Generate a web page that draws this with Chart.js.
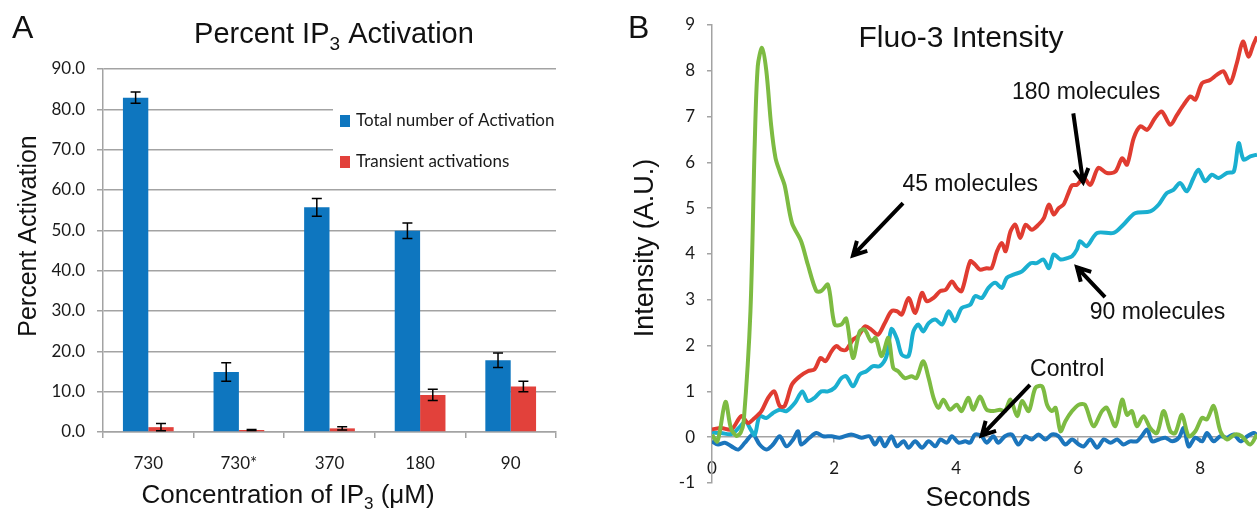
<!DOCTYPE html>
<html lang="en">
<head>
<meta charset="UTF-8">
<title>Percent IP3 Activation / Fluo-3 Intensity</title>
<script src="https://cdn.jsdelivr.net/npm/chart.js"></script>
<style>
    body { margin: 0; background: #fff; }
    #wrap { position: relative; width: 1257px; height: 510px; overflow: hidden; }
    #barChart { position: absolute; left: 0; top: 0; }
    #lineChart { position: absolute; left: 620px; top: 0; }
</style>
</head>
<body>
<div id="wrap">
    <canvas id="barChart" width="620" height="510"></canvas>
    <canvas id="lineChart" width="637" height="510"></canvas>
</div>
<script>
// ---------- Panel A: percent IP3 activation ----------
const concentrations = ['730', '730*', '370', '180', '90'];
const totalActivation = [82.9, 14.9, 55.7, 49.9, 17.8];
const totalError = [1.4, 2.3, 2.2, 1.9, 1.8];
const transientActivation = [1.2, 0.5, 0.9, 9.2, 11.3];
const transientError = [0.9, 0.1, 0.4, 1.4, 1.3];
const percentTicks = [0, 10, 20, 30, 40, 50, 60, 70, 80, 90];

// ---------- Panel B: Fluo-3 intensity traces ----------
const secondTicks = [0, 2, 4, 6, 8];
const intensityTicks = [-1, 0, 1, 2, 3, 4, 5, 6, 7, 8, 9];

const t45 = [0, 0.09, 0.22, 0.31, 0.40, 0.47, 0.52, 0.63, 0.70, 0.75, 0.82, 0.89, 0.97, 1.04, 1.11, 1.19, 1.31, 1.46, 1.57, 1.71,
    1.79, 1.90, 2.01, 2.12, 2.20, 2.31, 2.42, 2.50, 2.61, 2.68, 2.78, 2.89, 2.97, 3.05, 3.16, 3.27, 3.35, 3.46, 3.55, 3.63,
    3.71, 3.79, 3.90, 4.01, 4.09, 4.20, 4.28, 4.39, 4.50, 4.61, 4.72, 4.80, 4.89, 5.00, 5.08, 5.19, 5.30, 5.41, 5.49, 5.57,
    5.63, 5.71, 5.79, 5.90, 6.01, 6.11, 6.25, 6.39, 6.47, 6.61, 6.72, 6.80, 6.88, 6.96, 7.07, 7.18, 7.29, 7.40, 7.51, 7.59,
    7.70, 7.81, 7.92, 8.03, 8.11, 8.22, 8.33, 8.44, 8.57, 8.68, 8.82, 8.93];
const v45 = [0.05, -0.09, 0.77, 0.2, 0.03, 0.1, 0.35, 2.75, 6.4, 8.1, 8.5, 8.0, 6.8, 6.1, 5.8, 5.5, 4.68, 4.28, 3.77, 3.19,
    3.19, 3.33, 2.46, 2.46, 2.59, 1.73, 2.31, 2.35, 2.09, 2.17, 1.77, 2.17, 1.51, 1.44, 1.29, 1.33, 1.29, 1.66, 1.29, 0.86,
    0.64, 0.82, 0.6, 0.71, 0.57, 0.86, 0.6, 0.89, 0.6, 0.57, 0.6, 0.57, 0.82, 0.46, 0.79, 0.57, 1.08, 1.11, 0.71, 0.57,
    0.64, 0.13, 0.35, 0.57, 0.71, 0.71, 0.24, 0.57, 0.64, 0.24, 0.82, 0.49, 0.57, 0.24, 0.46, 0.2, 0.09, 0.57, 0.13, 0.09,
    0.49, 0.02, 0.13, 0.42, 0.39, 0.68, 0.13, -0.05, 0.06, 0.02, -0.16, 0.06];

const t180 = [0, 0.15, 0.32, 0.48, 0.59, 0.70, 0.81, 0.92, 1.02, 1.11, 1.19, 1.31, 1.44, 1.57, 1.68, 1.78, 1.86, 1.96, 2.04, 2.12,
    2.20, 2.31, 2.39, 2.51, 2.61, 2.72, 2.83, 2.94, 3.03, 3.11, 3.22, 3.33, 3.44, 3.52, 3.63, 3.74, 3.83, 3.93, 4.01, 4.09,
    4.23, 4.31, 4.39, 4.50, 4.58, 4.67, 4.75, 4.81, 4.89, 4.97, 5.05, 5.14, 5.24, 5.35, 5.44, 5.52, 5.60, 5.68, 5.76, 5.84,
    5.90, 5.98, 6.09, 6.20, 6.33, 6.47, 6.61, 6.72, 6.80, 6.91, 7.02, 7.13, 7.26, 7.37, 7.51, 7.62, 7.73, 7.84, 7.92, 8.03,
    8.16, 8.27, 8.38, 8.49, 8.60, 8.70, 8.79, 8.87, 8.93];
const v180 = [0.17, 0.2, 0.17, 0.46, 0.31, 0.42, 0.57, 0.86, 1.0, 0.68, 0.68, 1.15, 1.33, 1.44, 1.48, 1.73, 1.66, 1.88, 1.99, 1.91,
    1.91, 2.13, 2.2, 2.42, 2.35, 2.24, 2.49, 2.75, 2.75, 2.68, 3.04, 2.71, 3.15, 2.97, 3.04, 3.19, 3.22, 3.4, 3.26, 3.19,
    3.84, 3.77, 3.66, 3.69, 3.69, 4.06, 4.24, 4.06, 4.49, 4.64, 4.35, 4.64, 4.53, 4.64, 4.79, 5.08, 4.86, 5.0, 5.08, 5.33,
    5.5, 5.51, 5.66, 5.51, 5.88, 5.77, 5.8, 6.09, 5.95, 6.53, 6.79, 6.71, 6.97, 7.11, 6.82, 7.04, 7.26, 7.44, 7.37, 7.73,
    7.8, 7.91, 7.99, 7.73, 8.17, 8.64, 8.31, 8.57, 8.75];

const t90 = [0, 0.15, 0.32, 0.45, 0.55, 0.62, 0.70, 0.78, 0.89, 1.0, 1.11, 1.22, 1.36, 1.48, 1.57, 1.68, 1.79, 1.90, 2.01, 2.12,
    2.20, 2.31, 2.42, 2.53, 2.64, 2.75, 2.86, 2.94, 3.03, 3.11, 3.22, 3.30, 3.38, 3.46, 3.55, 3.66, 3.77, 3.88, 3.98, 4.09,
    4.23, 4.31, 4.42, 4.53, 4.64, 4.75, 4.83, 4.94, 5.08, 5.22, 5.32, 5.43, 5.52, 5.60, 5.71, 5.82, 5.90, 5.98, 6.03, 6.14,
    6.31, 6.58, 6.74, 6.93, 7.18, 7.32, 7.45, 7.56, 7.67, 7.78, 7.89, 7.97, 8.08, 8.19, 8.30, 8.44, 8.55, 8.63, 8.71, 8.82, 8.93];
const v90 = [0.1, 0.09, 0.07, 0.22, 0.35, 0.2, 0.05, 0.46, 0.42, 0.53, 0.6, 0.57, 0.75, 1.0, 0.79, 0.86, 1.0, 1.0, 1.08, 1.29,
    1.33, 1.11, 1.37, 1.44, 1.55, 1.55, 1.77, 2.36, 2.15, 1.8, 1.77, 2.31, 2.46, 2.31, 2.49, 2.57, 2.46, 2.75, 2.53, 2.82,
    2.89, 3.08, 3.04, 3.26, 3.37, 3.26, 3.48, 3.55, 3.62, 3.8, 3.8, 3.88, 3.69, 3.99, 3.88, 3.91, 3.95, 4.1, 4.28, 4.17,
    4.46, 4.46, 4.64, 4.89, 4.93, 5.08, 5.33, 5.4, 5.55, 5.37, 5.66, 5.84, 5.59, 5.73, 5.66, 5.77, 5.8, 6.42, 6.06, 6.13, 6.17];

const tControl = [0, 0.10, 0.21, 0.32, 0.43, 0.54, 0.67, 0.78, 0.89, 1.0, 1.11, 1.22, 1.33, 1.41, 1.46, 1.60, 1.71, 1.82, 1.96, 2.09,
    2.28, 2.45, 2.58, 2.67, 2.75, 2.83, 2.94, 3.03, 3.14, 3.22, 3.33, 3.44, 3.55, 3.66, 3.74, 3.85, 3.93, 4.04, 4.15, 4.23,
    4.31, 4.42, 4.50, 4.61, 4.69, 4.80, 4.91, 5.02, 5.13, 5.24, 5.35, 5.46, 5.57, 5.68, 5.79, 5.90, 6.01, 6.09, 6.20, 6.31,
    6.42, 6.53, 6.64, 6.74, 6.85, 6.96, 7.04, 7.13, 7.21, 7.32, 7.43, 7.54, 7.65, 7.73, 7.81, 7.92, 8.03, 8.11, 8.22, 8.33,
    8.44, 8.55, 8.66, 8.77, 8.88, 8.93];
const vControl = [-0.09, -0.16, -0.12, -0.2, -0.27, -0.12, 0.06, -0.16, -0.27, -0.16, 0.02, -0.2, -0.05, 0.13, -0.16, -0.01, 0.09, 0.02, 0.02, -0.01,
    0.06, -0.01, 0.02, -0.16, -0.01, -0.2, 0.02, -0.2, -0.09, -0.23, -0.09, -0.23, -0.09, -0.2, -0.05, -0.12, 0.02, -0.12, -0.09, -0.12,
    0.06, 0.02, -0.12, 0.02, -0.12, 0.02, 0.06, -0.16, 0.02, -0.05, 0.06, -0.05, 0.06, 0.02, -0.16, -0.05, -0.16, -0.2, -0.05, -0.23,
    -0.05, -0.12, -0.05, -0.16, -0.09, -0.09, 0.02, 0.17, -0.09, -0.05, -0.01, -0.09, -0.01, 0.2, -0.2, -0.01, -0.09, 0.09, -0.09, 0.02,
    -0.01, 0.06, -0.09, 0.02, 0.09, 0.05];

// labels and arrows of panel B, in data units (seconds, intensity)
const notes = [
    { text: '180 molecules', at: [6.13, 7.53], from: [5.92, 7.07], to: [6.08, 5.57] },
    { text: '45 molecules', at: [4.23, 5.52], from: [3.13, 5.11], to: [2.31, 3.97] },
    { text: '90 molecules', at: [7.30, 2.71], from: [6.44, 3.06], to: [5.98, 3.71] },
    { text: 'Control', at: [5.82, 1.48], from: [5.21, 1.14], to: [4.42, 0.04] }
];

const SANS = '"Liberation Sans", Arial, sans-serif';
const GRID = '#a3a3a3';
Chart.defaults.font.family = 'Lato, "Liberation Sans", sans-serif';
Chart.defaults.color = '#1a1a1a';

const pts = (ts, vs) => ts.map((t, i) => ({ x: t, y: vs[i] }));
const setTicks = list => scale => { scale.ticks = list.map(v => ({ value: v })); };

// text with a subscript part: parts are {text} or {text, sub: true}
function drawRich(ctx, parts, cx, baseline, size) {
    const subSize = Math.round(size * 0.64);
    const widthOf = p => {
        ctx.font = (p.sub ? subSize : size) + 'px ' + SANS;
        return ctx.measureText(p.text).width;
    };
    let x = cx - parts.reduce((w, p) => w + widthOf(p), 0) / 2;
    ctx.textAlign = 'left';
    ctx.textBaseline = 'alphabetic';
    parts.forEach(p => {
        const w = widthOf(p);
        ctx.fillText(p.text, x, p.sub ? baseline + size * 0.24 : baseline);
        x += w;
    });
}

function drawRotated(ctx, text, cx, cy, size) {
    ctx.save();
    ctx.translate(cx, cy);
    ctx.rotate(-Math.PI / 2);
    ctx.font = size + 'px ' + SANS;
    ctx.textAlign = 'center';
    ctx.textBaseline = 'middle';
    ctx.fillText(text, 0, 0);
    ctx.restore();
}

function drawArrow(ctx, x1, y1, x2, y2) {
    const a = Math.atan2(y2 - y1, x2 - x1), h = 15;
    ctx.beginPath();
    ctx.moveTo(x1, y1);
    ctx.lineTo(x2, y2);
    ctx.moveTo(x2 - h * Math.cos(a - 0.5), y2 - h * Math.sin(a - 0.5));
    ctx.lineTo(x2, y2);
    ctx.lineTo(x2 - h * Math.cos(a + 0.5), y2 - h * Math.sin(a + 0.5));
    ctx.stroke();
}

// error bars on top of each bar
const errorBars = {
    id: 'errorBars',
    afterDatasetsDraw(chart) {
        const ctx = chart.ctx, y = chart.scales.y;
        ctx.save();
        ctx.strokeStyle = '#000';
        ctx.lineWidth = 1.5;
        chart.data.datasets.forEach((ds, i) => {
            chart.getDatasetMeta(i).data.forEach((bar, j) => {
                const top = y.getPixelForValue(ds.data[j] + ds.errors[j]);
                const bot = y.getPixelForValue(ds.data[j] - ds.errors[j]);
                ctx.beginPath();
                ctx.moveTo(bar.x, top); ctx.lineTo(bar.x, bot);
                ctx.moveTo(bar.x - 5, top); ctx.lineTo(bar.x + 5, top);
                ctx.moveTo(bar.x - 5, bot); ctx.lineTo(bar.x + 5, bot);
                ctx.stroke();
            });
        });
        ctx.restore();
    }
};

// legend inside the plot, over a white box
const legendBox = {
    id: 'legendBox',
    afterDraw(chart) {
        const ctx = chart.ctx;
        ctx.save();
        ctx.fillStyle = '#fff';
        ctx.fillRect(333, 97, 240, 84);
        ctx.font = '17px Lato, sans-serif';
        ctx.textAlign = 'left';
        ctx.textBaseline = 'middle';
        chart.data.datasets.forEach((ds, i) => {
            const cy = 121 + i * 41;
            ctx.fillStyle = ds.backgroundColor;
            ctx.fillRect(340, cy - 6, 10, 12);
            ctx.fillStyle = '#1a1a1a';
            ctx.fillText(ds.label, 356, cy);
        });
        ctx.restore();
    }
};

const panelAText = {
    id: 'panelAText',
    afterDraw(chart) {
        const ctx = chart.ctx;
        ctx.save();
        ctx.fillStyle = '#111';
        ctx.font = '32px ' + SANS;
        ctx.textAlign = 'left';
        ctx.fillText('A', 12, 38);
        drawRich(ctx, [{ text: 'Percent IP' }, { text: '3', sub: true }, { text: ' Activation' }], 334, 43, 29);
        drawRich(ctx, [{ text: 'Concentration of IP' }, { text: '3', sub: true }, { text: ' (\u03bcM)' }], 288, 503, 26);
        drawRotated(ctx, 'Percent Activation', 29, 236, 25);
        ctx.restore();
    }
};

const panelBText = {
    id: 'panelBText',
    afterDraw(chart) {
        const ctx = chart.ctx, x = chart.scales.x, y = chart.scales.y;
        ctx.save();
        ctx.fillStyle = '#111';
        ctx.font = '32px ' + SANS;
        ctx.textAlign = 'left';
        ctx.fillText('B', 8, 38);
        drawRich(ctx, [{ text: 'Fluo-3 Intensity' }], 341, 47, 30);
        drawRich(ctx, [{ text: 'Seconds' }], 358, 506, 27);
        drawRotated(ctx, 'Intensity (A.U.)', 26, 248, 27);

        ctx.strokeStyle = '#000';
        ctx.lineWidth = 4;
        ctx.font = '23px ' + SANS;
        ctx.textAlign = 'center';
        ctx.textBaseline = 'middle';
        notes.forEach(n => {
            ctx.fillText(n.text, x.getPixelForValue(n.at[0]), y.getPixelForValue(n.at[1]));
            drawArrow(ctx, x.getPixelForValue(n.from[0]), y.getPixelForValue(n.from[1]),
                x.getPixelForValue(n.to[0]), y.getPixelForValue(n.to[1]));
        });
        ctx.restore();
    }
};

new Chart(document.getElementById('barChart'), {
    type: 'bar',
    data: {
        labels: concentrations,
        datasets: [
            { label: 'Total number of Activation', data: totalActivation, errors: totalError, backgroundColor: '#0e76bf' },
            { label: 'Transient activations', data: transientActivation, errors: transientError, backgroundColor: '#e2413b' }
        ]
    },
    options: {
        responsive: false,
        animation: false,
        layout: { padding: { top: 69, right: 64, bottom: 0, left: 0 } },
        datasets: { bar: { categoryPercentage: 0.56, barPercentage: 1.0 } },
        plugins: { legend: { display: false }, tooltip: { enabled: false } },
        scales: {
            x: {
                afterFit: s => { s.height = 78; },
                grid: { drawOnChartArea: false, offset: true, tickLength: 6, color: GRID, lineWidth: 1.5 },
                border: { color: GRID, width: 1.5 },
                ticks: { padding: 15, font: { size: 17 } }
            },
            y: {
                min: 0,
                max: 90,
                afterFit: s => { s.width = 103; },
                afterBuildTicks: setTicks(percentTicks),
                grid: { tickLength: 6, color: GRID, lineWidth: 1.5 },
                border: { color: GRID, width: 1.5 },
                ticks: { padding: 12, font: { size: 17 }, callback: v => v.toFixed(1) }
            }
        }
    },
    plugins: [errorBars, legendBox, panelAText]
});

new Chart(document.getElementById('lineChart'), {
    type: 'line',
    data: {
        datasets: [
            { label: '45 molecules', data: pts(t45, v45), borderColor: '#7dbb42' },
            { label: '180 molecules', data: pts(t180, v180), borderColor: '#e03c31' },
            { label: '90 molecules', data: pts(t90, v90), borderColor: '#1aafd0' },
            { label: 'Control', data: pts(tControl, vControl), borderColor: '#1b75bc' }
        ]
    },
    options: {
        responsive: false,
        animation: false,
        layout: { padding: { top: 25, right: 0, bottom: 27, left: 0 } },
        elements: { line: { borderWidth: 4, tension: 0.3 }, point: { radius: 0 } },
        plugins: { legend: { display: false }, tooltip: { enabled: false } },
        scales: {
            x: {
                type: 'linear',
                position: { y: 0 },
                min: 0,
                max: 8.93,
                afterBuildTicks: setTicks(secondTicks),
                grid: { drawOnChartArea: false, tickLength: 5, color: GRID, lineWidth: 1.5 },
                border: { color: GRID, width: 1.5 },
                ticks: { padding: 16, font: { size: 17 } }
            },
            y: {
                min: -1,
                max: 9,
                afterFit: s => { s.width = 92; },
                afterBuildTicks: setTicks(intensityTicks),
                grid: { drawOnChartArea: false, tickLength: 5, color: GRID, lineWidth: 1.5 },
                border: { color: GRID, width: 1.5 },
                ticks: { padding: 12, font: { size: 17 } }
            }
        }
    },
    plugins: [panelBText]
});
</script>
</body>
</html>
